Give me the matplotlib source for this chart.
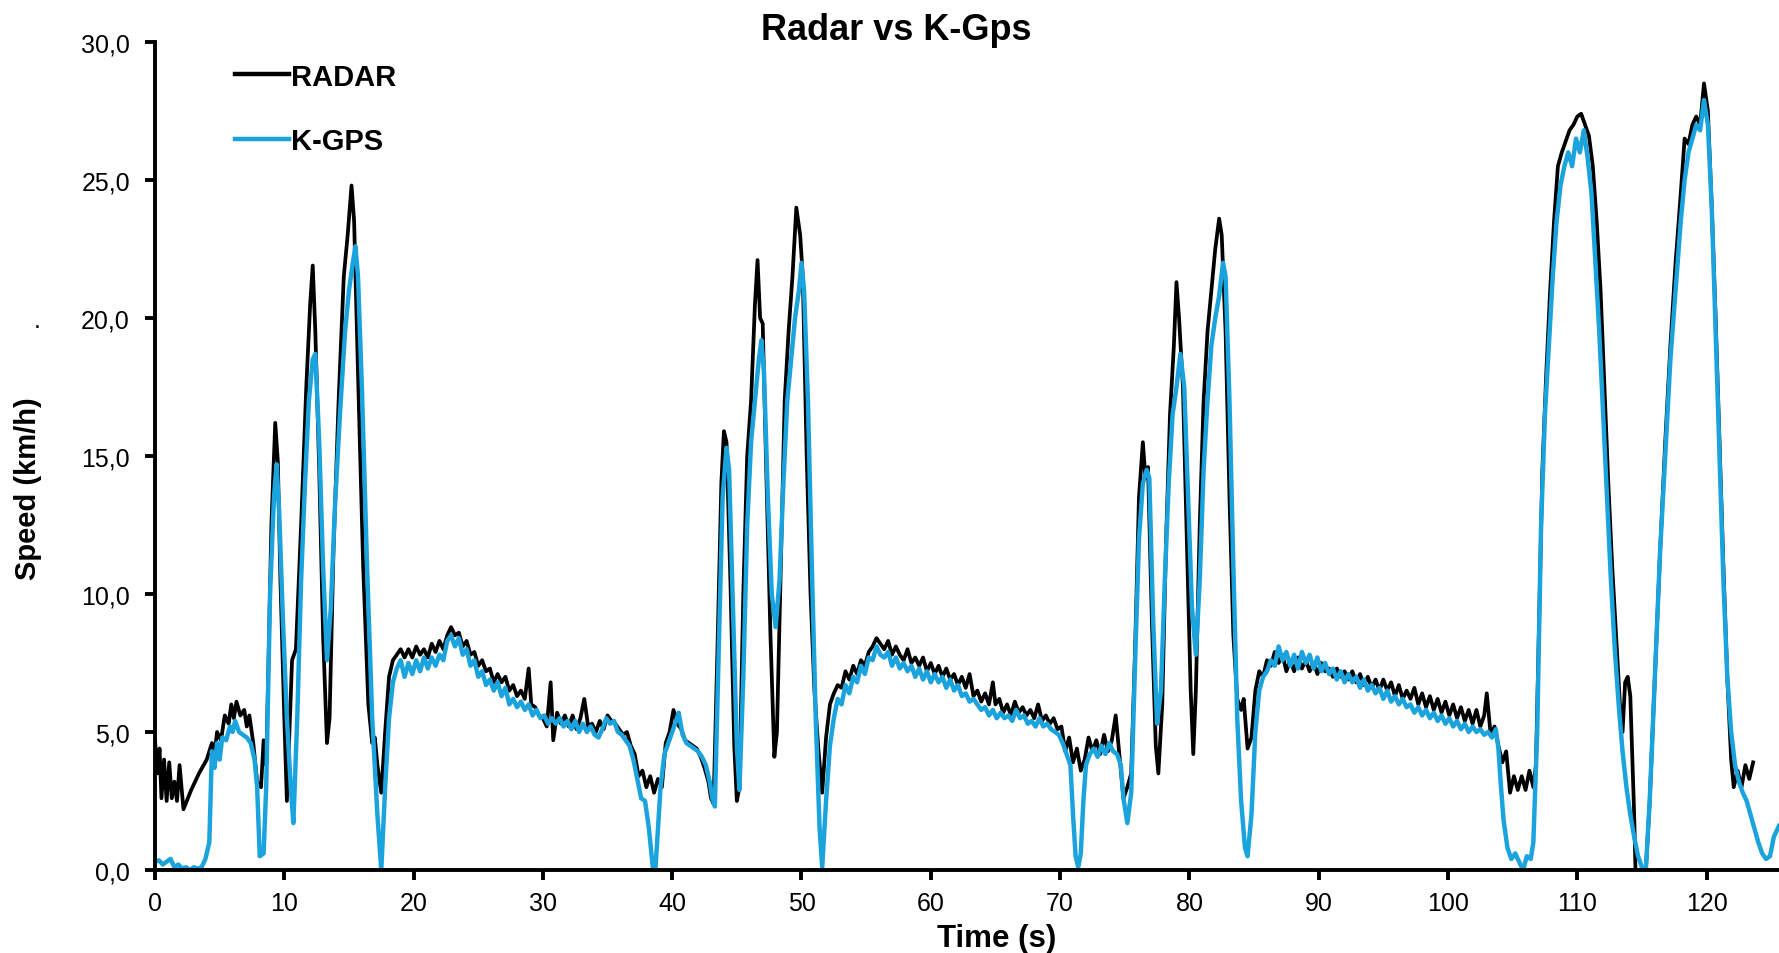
import numpy as np
import matplotlib
matplotlib.use("Agg")
import matplotlib.pyplot as plt
from matplotlib.ticker import FuncFormatter

plt.rcParams['font.family'] = ['Liberation Sans', 'DejaVu Sans']

# (time s, speed km/h)
radar = [
    (0.0, 4.7), (0.2, 3.5), (0.35, 4.4), (0.5, 2.6), (0.7, 4.0), (0.9, 2.5), (1.1, 3.9), (1.3, 2.6),
    (1.5, 3.2), (1.7, 2.5), (1.9, 3.8), (2.2, 2.2), (2.8, 2.9), (3.4, 3.5), (4.0, 4.0), (4.4, 4.6),
    (4.6, 4.2), (4.8, 5.0), (5.1, 4.7), (5.4, 5.6), (5.7, 5.3), (5.9, 6.0), (6.1, 5.5), (6.3, 6.1),
    (6.6, 5.6), (6.9, 5.8), (7.1, 5.2), (7.3, 5.6), (7.6, 4.6), (7.9, 3.2), (8.2, 3.0), (8.4, 4.7),
    (8.6, 3.8), (8.8, 8.0), (9.0, 12.5), (9.3, 16.2), (9.5, 14.8), (9.7, 10.5), (10.0, 5.5), (10.2, 2.5),
    (10.4, 5.0), (10.6, 7.6), (10.9, 8.0), (11.3, 12.5), (11.7, 17.5), (12.0, 20.5), (12.2, 21.9),
    (12.4, 19.5), (12.7, 14.5), (13.0, 8.5), (13.3, 4.6), (13.5, 5.5), (13.8, 11.5), (14.2, 17.0),
    (14.6, 21.5), (14.9, 23.0), (15.2, 24.8), (15.4, 23.5), (15.7, 18.0), (16.1, 11.0), (16.5, 6.0),
    (16.8, 4.6), (17.0, 4.8), (17.2, 3.8), (17.5, 2.8), (17.8, 5.0), (18.1, 7.0), (18.4, 7.6),
    (18.7, 7.8), (19.0, 8.0), (19.3, 7.7), (19.6, 8.0), (19.9, 7.7), (20.2, 8.1), (20.5, 7.8), (20.8, 8.0),
    (21.1, 7.7), (21.4, 8.2), (21.7, 7.9), (22.0, 8.3), (22.3, 8.0), (22.6, 8.5), (22.9, 8.8), (23.2, 8.5),
    (23.5, 8.6), (23.8, 8.1), (24.1, 8.3), (24.4, 7.8), (24.7, 7.9), (25.0, 7.4), (25.3, 7.6), (25.6, 7.2),
    (25.9, 7.3), (26.2, 6.8), (26.5, 7.1), (26.8, 6.8), (27.1, 7.0), (27.4, 6.5), (27.7, 6.7), (28.0, 6.3),
    (28.3, 6.5), (28.6, 6.2), (28.9, 7.3), (29.1, 6.0), (29.4, 5.9), (29.7, 5.6), (30.0, 5.5), (30.3, 5.2),
    (30.6, 6.8), (30.8, 4.7), (31.1, 5.7), (31.4, 5.3), (31.7, 5.6), (32.0, 5.2), (32.3, 5.6), (32.6, 5.1),
    (32.9, 5.5), (33.2, 6.2), (33.5, 5.2), (33.8, 5.3), (34.1, 5.0), (34.4, 5.4), (34.7, 5.1), (35.0, 5.6),
    (35.3, 5.4), (35.6, 5.3), (35.9, 5.1), (36.2, 4.9), (36.5, 5.0), (36.8, 4.5), (37.1, 4.2), (37.4, 3.4),
    (37.7, 3.6), (38.0, 3.0), (38.3, 3.4), (38.6, 2.8), (38.9, 3.3), (39.2, 3.0), (39.5, 4.6), (39.8, 5.0),
    (40.1, 5.8), (40.4, 5.3), (40.7, 5.1), (41.0, 4.7), (41.3, 4.6), (41.6, 4.5), (41.9, 4.4), (42.2, 4.1),
    (42.5, 3.7), (42.8, 3.2), (43.0, 2.6), (43.2, 2.4), (43.5, 8.0), (43.8, 14.0), (44.0, 15.9), (44.2, 15.5),
    (44.5, 10.5), (44.8, 4.5), (45.0, 2.5), (45.2, 3.0), (45.5, 10.0), (45.8, 15.0), (46.1, 17.0),
    (46.4, 20.5), (46.6, 22.1), (46.8, 20.0), (47.0, 19.8), (47.3, 14.0), (47.6, 8.5), (47.9, 4.1),
    (48.1, 5.0), (48.4, 11.0), (48.7, 17.0), (49.0, 19.5), (49.3, 21.5), (49.6, 24.0), (49.9, 23.0),
    (50.1, 21.5), (50.4, 15.0), (50.7, 10.0), (51.0, 6.5), (51.3, 4.4), (51.6, 2.8), (51.9, 4.8),
    (52.2, 6.0), (52.5, 6.4), (52.8, 6.7), (53.1, 6.6), (53.4, 7.2), (53.7, 6.9), (54.0, 7.4), (54.3, 7.1),
    (54.6, 7.6), (54.9, 7.4), (55.2, 7.9), (55.5, 8.1), (55.8, 8.4), (56.1, 8.2), (56.4, 8.0), (56.7, 8.3),
    (57.0, 7.8), (57.3, 8.1), (57.6, 7.8), (57.9, 7.6), (58.2, 8.0), (58.5, 7.5), (58.8, 7.7), (59.1, 7.4),
    (59.4, 7.7), (59.7, 7.2), (60.0, 7.5), (60.3, 7.1), (60.6, 7.4), (60.9, 7.0), (61.2, 7.3), (61.5, 6.9),
    (61.8, 7.1), (62.1, 6.7), (62.4, 7.0), (62.7, 6.6), (63.0, 7.1), (63.3, 6.3), (63.6, 6.5), (63.9, 6.1),
    (64.2, 6.4), (64.5, 6.0), (64.8, 6.8), (65.0, 6.0), (65.3, 6.2), (65.6, 5.7), (65.9, 6.0), (66.2, 5.6),
    (66.5, 6.1), (66.8, 5.7), (67.1, 5.9), (67.4, 5.6), (67.7, 5.8), (68.0, 5.5), (68.3, 6.0), (68.6, 5.4),
    (68.9, 5.6), (69.2, 5.3), (69.5, 5.5), (69.8, 5.1), (70.1, 5.2), (70.4, 4.3), (70.7, 4.8), (71.0, 3.9),
    (71.3, 4.4), (71.6, 3.6), (71.9, 4.0), (72.2, 4.8), (72.5, 4.3), (72.8, 4.7), (73.1, 4.2), (73.4, 4.9),
    (73.7, 4.3), (74.0, 4.7), (74.3, 5.6), (74.6, 4.1), (74.9, 2.6), (75.2, 3.0), (75.5, 3.5), (75.8, 8.0),
    (76.1, 13.5), (76.4, 15.5), (76.6, 14.2), (76.8, 14.6), (77.1, 9.0), (77.4, 4.5), (77.6, 3.5),
    (77.9, 6.0), (78.2, 12.0), (78.5, 16.5), (78.8, 19.0), (79.0, 21.3), (79.2, 20.0), (79.5, 17.5),
    (79.8, 12.0), (80.1, 6.5), (80.3, 4.2), (80.5, 6.5), (80.8, 12.5), (81.1, 17.0), (81.4, 19.5),
    (81.7, 21.0), (82.0, 22.5), (82.3, 23.6), (82.5, 23.0), (82.8, 19.5), (83.1, 13.5), (83.4, 8.5),
    (83.7, 6.2), (84.0, 5.8), (84.2, 6.2), (84.5, 4.4), (84.8, 4.8), (85.1, 6.5), (85.4, 7.2), (85.7, 7.0),
    (86.0, 7.6), (86.3, 7.4), (86.6, 7.9), (86.9, 7.5), (87.2, 7.8), (87.5, 7.2), (87.8, 7.6), (88.1, 7.2),
    (88.4, 7.7), (88.7, 7.3), (89.0, 7.6), (89.3, 7.2), (89.6, 7.5), (89.9, 7.1), (90.2, 7.5), (90.5, 7.2),
    (90.8, 7.3), (91.1, 7.0), (91.4, 7.3), (91.7, 7.0), (92.0, 7.2), (92.3, 6.9), (92.6, 7.2), (92.9, 6.8),
    (93.2, 7.1), (93.5, 6.7), (93.8, 7.0), (94.1, 6.6), (94.4, 6.9), (94.7, 6.5), (95.0, 6.9), (95.3, 6.5),
    (95.6, 6.8), (95.9, 6.3), (96.2, 6.7), (96.5, 6.2), (96.8, 6.5), (97.1, 6.2), (97.4, 6.6), (97.7, 6.0),
    (98.0, 6.4), (98.3, 5.9), (98.6, 6.3), (98.9, 5.8), (99.2, 6.2), (99.5, 5.7), (99.8, 6.1), (100.1, 5.6),
    (100.4, 6.0), (100.7, 5.5), (101.0, 5.9), (101.3, 5.4), (101.6, 5.8), (101.9, 5.3), (102.2, 5.8),
    (102.5, 5.2), (102.8, 5.6), (103.0, 6.4), (103.3, 4.9), (103.6, 5.2), (103.9, 4.5), (104.2, 3.9),
    (104.5, 4.3), (104.8, 2.8), (105.1, 3.4), (105.4, 2.9), (105.7, 3.4), (106.0, 2.9), (106.3, 3.6),
    (106.6, 3.0), (106.8, 3.8), (107.0, 8.0), (107.3, 14.5), (107.6, 18.0), (107.9, 21.0), (108.2, 23.5),
    (108.5, 25.5), (108.8, 26.0), (109.1, 26.4), (109.4, 26.8), (109.7, 27.0), (110.0, 27.3), (110.3, 27.4),
    (110.6, 27.0), (110.9, 26.6), (111.2, 25.5), (111.5, 23.5), (111.8, 21.0), (112.1, 17.5), (112.4, 14.0),
    (112.7, 11.0), (113.0, 8.5), (113.3, 6.0), (113.5, 5.0), (113.7, 6.8), (113.9, 7.0), (114.1, 6.3),
    (114.4, 2.0), (114.5, 0.0), (115.3, 0.0), (115.6, 2.5), (116.0, 7.0), (116.4, 11.5), (116.8, 15.5),
    (117.2, 19.0), (117.6, 22.0), (118.0, 24.5), (118.3, 26.5), (118.6, 26.3), (118.9, 27.0), (119.2, 27.3),
    (119.5, 27.0), (119.8, 28.5), (120.1, 27.5), (120.4, 24.0), (120.7, 20.0), (121.0, 15.5), (121.3, 11.0),
    (121.6, 7.0), (121.9, 4.0), (122.1, 3.0), (122.4, 3.6), (122.7, 3.0), (123.0, 3.8), (123.3, 3.3),
    (123.6, 3.9),
]

kgps = [
    (0.0, 0.3), (0.3, 0.35), (0.6, 0.2), (0.9, 0.3), (1.2, 0.4), (1.5, 0.1), (1.8, 0.2), (2.1, 0.05),
    (2.4, 0.1), (2.7, 0.0), (3.0, 0.1), (3.3, 0.05), (3.6, 0.1), (3.9, 0.4), (4.2, 1.0), (4.4, 4.3),
    (4.6, 3.7), (4.8, 4.6), (5.0, 4.0), (5.2, 4.8), (5.5, 4.7), (5.8, 5.2), (6.0, 5.0), (6.2, 5.4),
    (6.5, 5.0), (6.8, 4.9), (7.1, 4.8), (7.4, 4.6), (7.7, 4.0), (7.9, 3.0), (8.1, 0.5), (8.4, 0.6),
    (8.6, 3.0), (8.9, 10.0), (9.2, 13.5), (9.4, 14.7), (9.6, 13.0), (9.9, 9.0), (10.2, 5.5), (10.5, 3.0),
    (10.7, 1.7), (11.0, 5.5), (11.3, 10.5), (11.6, 14.0), (11.9, 17.0), (12.2, 18.5), (12.4, 18.7),
    (12.7, 15.5), (13.0, 11.0), (13.3, 7.6), (13.6, 9.5), (13.9, 13.0), (14.3, 16.5), (14.7, 19.5),
    (15.0, 21.0), (15.3, 22.0), (15.5, 22.6), (15.7, 21.5), (16.0, 17.5), (16.4, 11.0), (16.8, 5.5),
    (17.2, 2.0), (17.5, 0.0), (17.8, 3.0), (18.1, 5.5), (18.4, 6.8), (18.7, 7.3), (19.0, 7.6), (19.3, 7.0),
    (19.6, 7.5), (19.9, 7.1), (20.2, 7.6), (20.5, 7.2), (20.8, 7.7), (21.1, 7.3), (21.4, 7.7), (21.7, 7.4),
    (22.0, 7.8), (22.3, 7.6), (22.6, 8.3), (22.9, 8.5), (23.2, 8.1), (23.5, 8.4), (23.8, 7.8), (24.1, 8.0),
    (24.4, 7.4), (24.7, 7.6), (25.0, 7.0), (25.3, 7.2), (25.6, 6.7), (25.9, 6.9), (26.2, 6.5), (26.5, 6.8),
    (26.8, 6.3), (27.1, 6.6), (27.4, 6.0), (27.7, 6.2), (28.0, 5.9), (28.3, 6.1), (28.6, 5.8), (28.9, 6.0),
    (29.2, 5.6), (29.5, 5.8), (29.8, 5.5), (30.1, 5.6), (30.4, 5.3), (30.7, 5.5), (31.0, 5.3), (31.3, 5.5),
    (31.6, 5.2), (31.9, 5.4), (32.2, 5.1), (32.5, 5.4), (32.8, 5.0), (33.1, 5.3), (33.4, 5.0), (33.7, 5.2),
    (34.0, 4.9), (34.3, 4.8), (34.6, 5.1), (34.9, 5.5), (35.2, 5.3), (35.5, 5.4), (35.8, 5.0), (36.1, 4.9),
    (36.4, 4.7), (36.7, 4.5), (37.0, 4.0), (37.3, 3.3), (37.6, 2.6), (37.9, 2.5), (38.2, 1.5), (38.5, 0.1),
    (38.7, 0.0), (38.9, 1.5), (39.1, 3.0), (39.4, 4.2), (39.7, 4.6), (40.0, 5.0), (40.3, 5.4), (40.5, 5.7),
    (40.8, 4.9), (41.1, 4.6), (41.4, 4.5), (41.7, 4.4), (42.0, 4.3), (42.3, 4.1), (42.6, 3.8), (42.9, 3.2),
    (43.1, 2.6), (43.3, 2.3), (43.6, 8.0), (43.9, 13.5), (44.2, 15.3), (44.4, 14.5), (44.7, 9.5),
    (45.0, 4.5), (45.2, 2.9), (45.5, 7.0), (45.8, 12.5), (46.1, 15.5), (46.4, 17.0), (46.7, 18.5),
    (46.9, 19.2), (47.1, 18.0), (47.4, 13.5), (47.7, 10.0), (48.0, 8.8), (48.3, 10.5), (48.6, 14.0),
    (48.9, 17.0), (49.2, 18.5), (49.5, 20.0), (49.8, 21.0), (50.0, 22.0), (50.2, 21.0), (50.5, 17.0),
    (50.8, 11.0), (51.1, 5.5), (51.4, 1.5), (51.6, 0.1), (51.9, 2.5), (52.2, 4.5), (52.5, 5.5), (52.8, 6.2),
    (53.1, 6.0), (53.4, 6.7), (53.7, 6.4), (54.0, 7.0), (54.3, 6.8), (54.6, 7.4), (54.9, 7.1), (55.2, 7.7),
    (55.5, 7.6), (55.8, 8.1), (56.1, 7.8), (56.4, 7.7), (56.7, 7.9), (57.0, 7.4), (57.3, 7.7), (57.6, 7.3),
    (57.9, 7.5), (58.2, 7.2), (58.5, 7.4), (58.8, 7.0), (59.1, 7.3), (59.4, 6.9), (59.7, 7.2), (60.0, 6.8),
    (60.3, 7.1), (60.6, 6.8), (60.9, 7.0), (61.2, 6.6), (61.5, 6.9), (61.8, 6.5), (62.1, 6.7), (62.4, 6.3),
    (62.7, 6.4), (63.0, 6.1), (63.3, 6.2), (63.6, 6.0), (63.9, 5.8), (64.2, 5.9), (64.5, 5.6), (64.8, 5.8),
    (65.1, 5.5), (65.4, 5.7), (65.7, 5.5), (66.0, 5.6), (66.3, 5.4), (66.6, 5.8), (66.9, 5.5), (67.2, 5.6),
    (67.5, 5.3), (67.8, 5.4), (68.1, 5.2), (68.4, 5.5), (68.7, 5.2), (69.0, 5.3), (69.3, 5.1), (69.6, 5.0),
    (69.9, 4.9), (70.2, 4.6), (70.5, 4.2), (70.8, 3.8), (71.0, 2.0), (71.2, 0.5), (71.4, 0.1), (71.6, 0.6),
    (71.8, 2.5), (72.0, 3.8), (72.3, 4.2), (72.6, 4.4), (72.9, 4.1), (73.2, 4.5), (73.5, 4.2), (73.8, 4.6),
    (74.1, 4.3), (74.4, 4.2), (74.7, 3.8), (74.9, 2.6), (75.2, 1.7), (75.5, 2.8), (75.8, 7.5), (76.1, 12.0),
    (76.4, 14.0), (76.7, 14.5), (76.9, 14.2), (77.2, 9.0), (77.5, 5.3), (77.8, 6.5), (78.1, 10.5),
    (78.4, 14.0), (78.7, 16.5), (79.0, 17.5), (79.3, 18.7), (79.6, 17.5), (79.9, 13.5), (80.2, 9.5),
    (80.5, 7.8), (80.8, 10.5), (81.1, 14.5), (81.4, 17.0), (81.7, 19.0), (82.0, 20.0), (82.3, 20.8),
    (82.6, 22.0), (82.8, 21.5), (83.1, 17.0), (83.4, 11.0), (83.7, 5.5), (84.0, 2.5), (84.3, 0.8),
    (84.5, 0.5), (84.8, 2.0), (85.1, 5.0), (85.4, 6.5), (85.7, 7.0), (86.0, 7.2), (86.3, 7.6), (86.6, 7.4),
    (86.9, 8.1), (87.2, 7.6), (87.5, 7.9), (87.8, 7.4), (88.1, 7.8), (88.4, 7.3), (88.7, 7.9), (89.0, 7.5),
    (89.3, 7.8), (89.6, 7.3), (89.9, 7.7), (90.2, 7.2), (90.5, 7.5), (90.8, 7.1), (91.1, 7.3), (91.4, 6.9),
    (91.7, 7.2), (92.0, 6.8), (92.3, 7.1), (92.6, 6.8), (92.9, 7.0), (93.2, 6.6), (93.5, 6.9), (93.8, 6.5),
    (94.1, 6.7), (94.4, 6.4), (94.7, 6.6), (95.0, 6.2), (95.3, 6.5), (95.6, 6.1), (95.9, 6.3), (96.2, 6.0),
    (96.5, 6.2), (96.8, 5.9), (97.1, 6.0), (97.4, 5.7), (97.7, 5.9), (98.0, 5.6), (98.3, 5.8), (98.6, 5.5),
    (98.9, 5.7), (99.2, 5.4), (99.5, 5.6), (99.8, 5.3), (100.1, 5.5), (100.4, 5.2), (100.7, 5.4),
    (101.0, 5.1), (101.3, 5.3), (101.6, 5.0), (101.9, 5.2), (102.2, 5.0), (102.5, 5.1), (102.8, 4.9),
    (103.1, 5.0), (103.4, 4.8), (103.7, 5.1), (103.9, 4.4), (104.1, 3.0), (104.3, 1.8), (104.6, 0.8),
    (104.9, 0.4), (105.2, 0.6), (105.5, 0.3), (105.8, 0.0), (106.1, 0.5), (106.4, 0.4), (106.6, 1.0),
    (106.9, 5.0), (107.2, 12.5), (107.5, 16.5), (107.8, 19.0), (108.1, 21.5), (108.4, 23.5), (108.7, 24.8),
    (109.0, 25.5), (109.3, 26.0), (109.6, 25.5), (109.9, 26.5), (110.2, 26.0), (110.5, 26.8), (110.8, 25.8),
    (111.1, 24.5), (111.4, 22.0), (111.7, 19.5), (112.0, 16.5), (112.3, 13.5), (112.6, 10.5), (112.9, 8.0),
    (113.2, 6.0), (113.5, 4.3), (113.8, 3.0), (114.1, 2.0), (114.4, 1.2), (114.7, 0.5), (115.0, 0.1),
    (115.3, 0.0), (115.6, 2.5), (116.0, 7.0), (116.4, 11.5), (116.8, 15.0), (117.2, 18.5), (117.6, 21.0),
    (118.0, 23.5), (118.3, 25.0), (118.6, 26.0), (118.9, 26.5), (119.2, 27.0), (119.5, 26.8), (119.8, 27.9),
    (120.1, 27.0), (120.4, 24.0), (120.7, 19.5), (121.0, 15.0), (121.3, 10.5), (121.6, 7.0), (121.9, 5.0),
    (122.2, 3.8), (122.5, 3.2), (122.8, 2.8), (123.1, 2.5), (123.4, 2.0), (123.7, 1.5), (124.0, 1.0),
    (124.3, 0.6), (124.6, 0.4), (124.9, 0.5), (125.2, 1.2), (125.6, 1.6),
]

series_names = ["RADAR", "K-GPS"]
series_colors = ["#000000", "#1AA3DC"]
x_ticks = list(range(0, 130, 10))
y_ticks = [0, 5, 10, 15, 20, 25, 30]

fig = plt.figure(figsize=(17.79, 9.54), dpi=100)
ax = fig.add_axes([155 / 1779, 83 / 954, 1 - 155 / 1779, 828 / 954])

r_t, r_v = np.array(radar).T
g_t, g_v = np.array(kgps).T
ax.plot(r_t, r_v, color=series_colors[0], lw=2.7, label=series_names[0])
ax.plot(g_t, g_v, color=series_colors[1], lw=3.2, label=series_names[1])

ax.set_xlim(0, 125.6)
ax.set_ylim(0, 30)
ax.set_xticks(x_ticks)
ax.set_yticks(y_ticks)
ax.yaxis.set_major_formatter(FuncFormatter(lambda v, p: f"{v:.1f}".replace(".", ",")))

for s in ["top", "right"]:
    ax.spines[s].set_visible(False)
for s in ["left", "bottom"]:
    ax.spines[s].set_linewidth(2.8)
ax.tick_params(axis="both", direction="out", length=7, width=2.8, labelsize=18)
ax.tick_params(axis="y", pad=11)
ax.tick_params(axis="x", pad=8)

leg = ax.legend(loc="upper left", bbox_to_anchor=(0.049, 0.975), frameon=False,
                prop={"weight": "bold", "size": 21}, handlelength=1.85, handletextpad=0.1,
                labelspacing=1.25, borderaxespad=0, borderpad=0)
for line in leg.get_lines():
    line.set_linewidth(3.2)

fig.text(0.504, 0.968, "Radar vs K-Gps", ha="center", va="center", fontsize=26, fontweight="bold")
fig.text(0.56, 0.016, "Time (s)", ha="center", va="center", fontsize=22.5, fontweight="bold")
fig.text(0.016, 0.488, "Speed (km/h)", ha="center", va="center", rotation=90, fontsize=21, fontweight="bold")
fig.text(0.021, 0.664, ".", ha="center", va="center", fontsize=18)

fig.savefig("out.png", dpi=100)
